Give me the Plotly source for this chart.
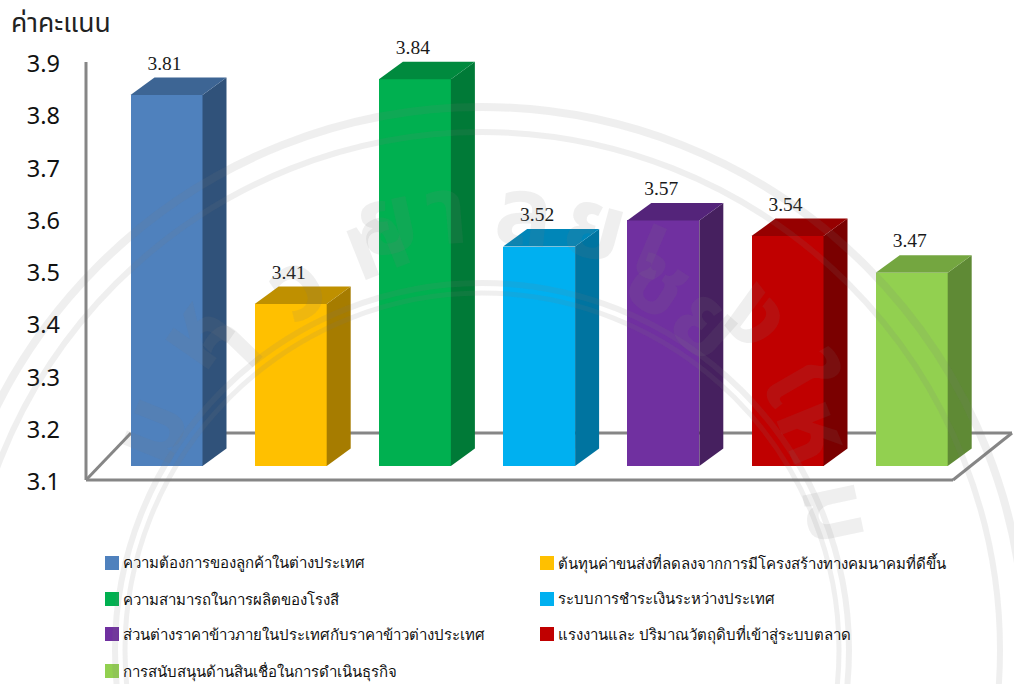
import math
import plotly.graph_objects as go

categories = ["ความต้องการของลูกค้าในต่างประเทศ",
              "ต้นทุนค่าขนส่งที่ลดลงจากการมีโครงสร้างทางคมนาคมที่ดีขึ้น",
              "ความสามารถในการผลิตของโรงสี",
              "ระบบการชำระเงินระหว่างประเทศ",
              "ส่วนต่างราคาข้าวภายในประเทศกับราคาข้าวต่างประเทศ",
              "แรงงานและ ปริมาณวัตถุดิบที่เข้าสู่ระบบตลาด",
              "การสนับสนุนด้านสินเชื่อในการดำเนินธุรกิจ"]
values = [3.81, 3.41, 3.84, 3.52, 3.57, 3.54, 3.47]
front_colors = ["#4F81BD", "#FFC000", "#00B050", "#00B0F0", "#7030A0", "#C00000", "#92D050"]
side_colors = ["#30527A", "#A67C00", "#007A37", "#0074A0", "#46205F", "#7A0000", "#5F8A35"]
top_colors = ["#3D6594", "#BF9000", "#008A3E", "#0086B8", "#54247A", "#960000", "#74A640"]
y_ticks = [3.1, 3.2, 3.3, 3.4, 3.5, 3.6, 3.7, 3.8, 3.9]
watermark_letters = ["ม", "ห", "า", "ว", "ท", "ย", "า", "ล", "ย", "เ", "ช", "ย", "ง", "ใ", "ห", "ม"]
watermark_angles = [-68, -55, -46, -34, -21.6, -12.4, -4.7, 5.5, 15, 23, 33, 42, 52, 60, 68, 78]

W, H = 1014, 684
AX_L, AX_T, AX_B = 86, 62, 480   # where the value axis is drawn
L, R_PX, T, B = 70, 1014, 30, 500  # plot area, roomy so nothing is clipped
BASE = 3.1
UNIT = (AX_B - AX_T) / 0.8
STEP = 124.2
X0 = 166.5
bar_w = 72 / STEP
dx = 24 / STEP
dy = 17.5 / UNIT
front_lift = 14 / UNIT
label_gap = 3 / UNIT
label_nudge = 2 / STEP
tick_nudge = 2 / UNIT
x_min = (L - X0) / STEP
x_max = (W - X0) / STEP
y_min = BASE - (B - AX_B) / UNIT
y_max = 3.9 + (AX_T - T) / UNIT


def px(x):
    return (x - L) / (W - L)


def py(y):
    return (B - y) / (B - T)


def dxp(x):
    return (x - X0) / STEP


fig = go.Figure()

line_style = dict(color="#868686", width=3)
floor_y = BASE + 47 / UNIT
for x0, y0, x1, y1 in [
    (dxp(AX_L), BASE, dxp(AX_L), 3.9),
    (dxp(AX_L), BASE, dxp(953), BASE),
    (dxp(953), BASE, dxp(1012), floor_y),
    (dxp(131), floor_y, dxp(1012), floor_y),
    (dxp(AX_L), BASE, dxp(131), floor_y),
]:
    fig.add_shape(type="line", x0=x0, y0=y0, x1=x1, y1=y1, xref="x", yref="y",
                  line=line_style, layer="below")

for i, v in enumerate(values):
    y0 = BASE + front_lift
    y1 = v + front_lift
    xl, xr = i - bar_w / 2, i + bar_w / 2
    fig.add_trace(go.Scatter(x=[xr, xr + dx, xr + dx, xr, xr],
                             y=[y0, y0 + dy, y1 + dy, y1, y0],
                             mode="lines", fill="toself", fillcolor=side_colors[i],
                             line=dict(width=0), hoverinfo="skip", showlegend=False))
    fig.add_trace(go.Scatter(x=[xl, xl + dx, xr + dx, xr, xl],
                             y=[y1, y1 + dy, y1 + dy, y1, y1],
                             mode="lines", fill="toself", fillcolor=top_colors[i],
                             line=dict(width=0), hoverinfo="skip", showlegend=False))

fig.add_trace(go.Bar(x=list(range(len(values))),
                     y=[v - BASE for v in values],
                     base=BASE + front_lift,
                     width=bar_w,
                     marker=dict(color=front_colors, line=dict(width=0)),
                     customdata=categories,
                     hovertemplate="%{customdata}: %{y}<extra></extra>",
                     showlegend=False))

fig.add_trace(go.Scatter(x=[i - label_nudge for i in range(len(values))],
                         y=[v + front_lift + dy + label_gap for v in values],
                         mode="text", text=[f"{v:.2f}" for v in values],
                         textposition="top center", cliponaxis=False,
                         textfont=dict(family="Liberation Serif", size=19.5, color="#1a1a1a"),
                         hoverinfo="skip", showlegend=False))

fig.update_layout(
    width=W, height=H, autosize=False,
    margin=dict(l=L, r=W - R_PX, t=T, b=H - B, pad=0),
    paper_bgcolor="white", plot_bgcolor="rgba(0,0,0,0)",
    bargap=0, showlegend=False,
    xaxis=dict(range=[x_min, x_max], visible=False, fixedrange=True),
    yaxis=dict(range=[y_min, y_max], tickvals=[t - tick_nudge for t in y_ticks],
               ticktext=[f"{t:.1f}" for t in y_ticks],
               showgrid=False, zeroline=False, showline=False, ticks="", ticklabelstandoff=9,
               tickfont=dict(family="Noto Sans", size=23.5, color="#111111"), fixedrange=True),
)

fig.add_annotation(text="ค่าคะแนน", xref="paper", yref="paper",
                   x=px(9), y=py(22), xanchor="left", yanchor="middle",
                   showarrow=False,
                   font=dict(family="Noto Sans, Noto Sans Thai, sans-serif", size=26.5, color="#222222"))

leg_x = [105, 540]
leg_y = [563, 599, 634, 671]
for i, (name, color) in enumerate(zip(categories, front_colors)):
    col, row = i % 2, i // 2
    lx, ly = leg_x[col], leg_y[row]
    fig.add_shape(type="rect", xref="paper", yref="paper",
                  x0=px(lx), x1=px(lx + 14), y0=py(ly + 7), y1=py(ly - 7),
                  fillcolor=color, line=dict(width=0))
    fig.add_annotation(text=name, xref="paper", yref="paper",
                       x=px(lx + 16), y=py(ly), xanchor="left", yanchor="middle",
                       showarrow=False,
                       font=dict(family="Liberation Serif, Noto Sans, serif", size=15, color="#111111"))

wm = "rgba(120,120,120,0.12)"
cx, cy = 482, 650
for r, w in [(543, 8), (518, 6), (367, 6), (357, 5)]:
    fig.add_shape(type="circle", xref="paper", yref="paper",
                  x0=px(cx - r), x1=px(cx + r), y0=py(cy + r), y1=py(cy - r),
                  line=dict(color=wm, width=w), fillcolor="rgba(0,0,0,0)", layer="above")
for ch, a in zip(watermark_letters, watermark_angles):
    gx = cx + 445 * math.sin(math.radians(a))
    gy = cy - 445 * math.cos(math.radians(a))
    fig.add_annotation(text=f"<b>{ch}</b>", xref="paper", yref="paper", x=px(gx), y=py(gy),
                       showarrow=False, textangle=a,
                       font=dict(family="Noto Sans, Noto Sans Thai, sans-serif", size=96, color=wm))

fig.write_html("out.html", config=dict(displayModeBar=False),
               post_script="document.body.style.margin='0';window.dispatchEvent(new Event('resize'));")
